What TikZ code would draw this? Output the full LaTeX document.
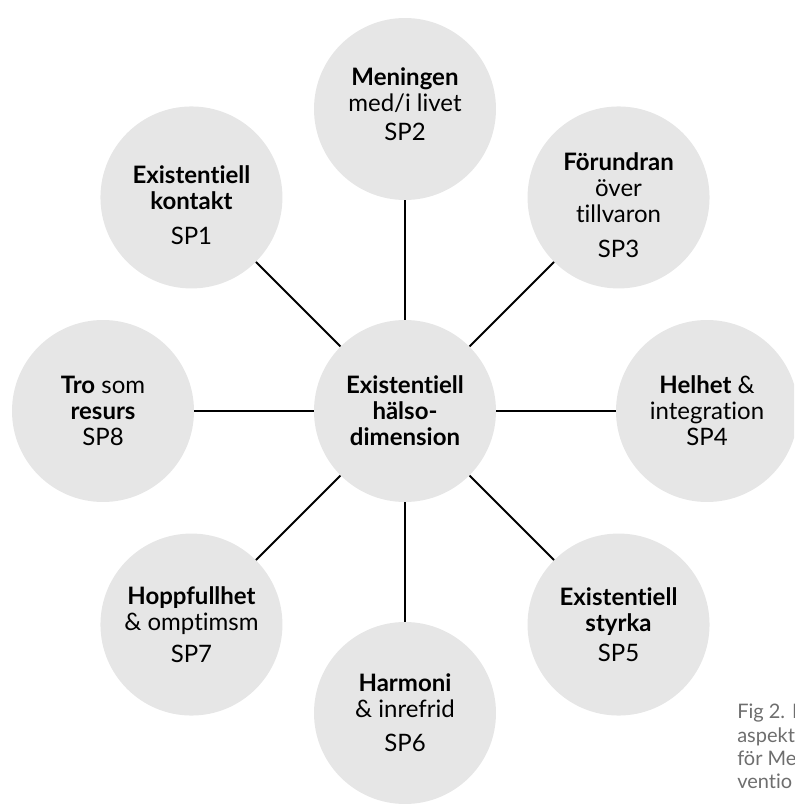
\documentclass[tikz,border=0pt]{standalone}
\usepackage{fontspec}
\setmainfont{Lato}[Ligatures={NoCommon}]
\usetikzlibrary{calc}

\definecolor{bubblegray}{HTML}{E6E6E6}
\definecolor{captiongray}{HTML}{6E6E6E}

\begin{document}
\begin{tikzpicture}[
  x=0.75pt, y=0.75pt,
  hub/.style     = {circle, fill=bubblegray, minimum size=136.5pt, inner sep=0pt,
                    align=center, font=\fontsize{18}{19.5}\selectfont},
  spoke/.style   = {hub},
  link/.style    = {line width=1.5pt, black},
  caption/.style = {align=left, inner sep=0pt, text=captiongray,
                    font=\fontsize{15}{17.5}\selectfont}
]
  \useasboundingbox (-405,-399) rectangle (389,411);
  \clip (-405,-399) rectangle (389,411);

  % centre circle
  \node[hub] (hub) at (0,0) {\textbf{Existentiell}\\\textbf{hälso-}\\\textbf{dimension}};

  % outer circles
  \node[spoke] (sp1) at (135:302) {\rule{0pt}{25pt}\textbf{Existentiell}\\\textbf{kontakt}\\[7pt]SP1};
  \node[spoke] (sp2) at (90:302)  {\textbf{Meningen}\\med/i livet\\[2.5pt]SP2\rule[-7pt]{0pt}{7pt}};
  \node[spoke] (sp3) at (45:302)  {\rule{0pt}{25pt}\textbf{Förundran}\\över\\tillvaron\\[7pt]SP3};
  \node[spoke] (sp4) at (0:302)   {\textbf{Helhet} \&\\integration\\SP4};
  \node[spoke] (sp5) at (-45:302) {\textbf{Existentiell}\\\textbf{styrka}\\[3pt]SP5};
  \node[spoke] (sp6) at (-90:302) {\textbf{Harmoni}\\\& inrefrid\\[6pt]SP6};
  \node[spoke] (sp7) at (-135:302){\textbf{Hoppfullhet}\\\& omptimsm\\[4pt]SP7};
  \node[spoke] (sp8) at (180:302) {\textbf{Tro} som\\\textbf{resurs}\\SP8};

  % connectors
  \draw[link] (hub) -- (sp1);
  \draw[link] (hub) -- (sp2);
  \draw[link] (hub) -- (sp3);
  \draw[link] (hub) -- (sp4);
  \draw[link] (hub) -- (sp5);
  \draw[link] (hub) -- (sp6);
  \draw[link] (hub) -- (sp7);
  \draw[link] (hub) -- (sp8);

  % caption, cut by the page edge
  \node[caption, anchor=north west] (figcap) at (332,-293) {Fig 2. I\\aspekt\\för Me\\ventio};
\end{tikzpicture}
\end{document}
